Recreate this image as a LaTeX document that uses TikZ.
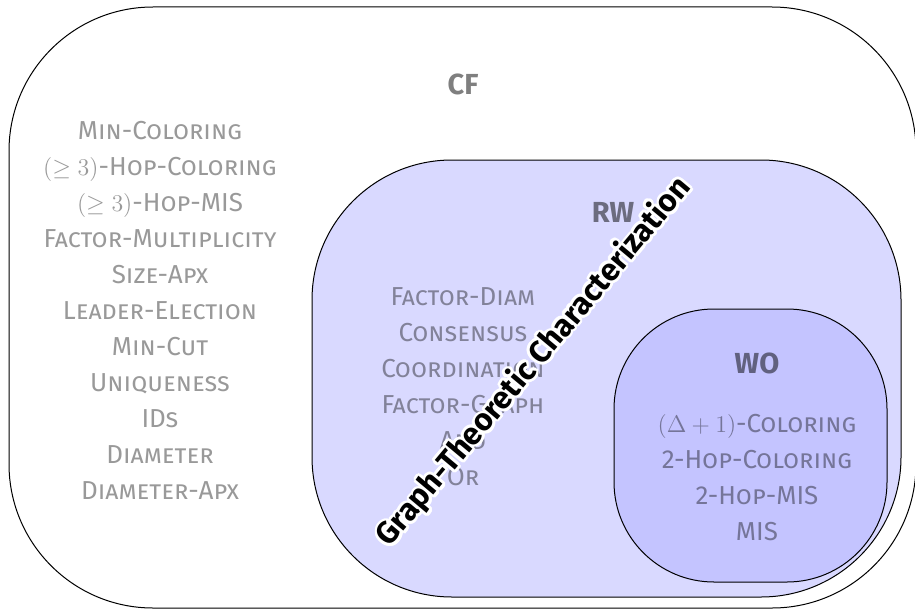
\documentclass[tikz,border=0pt]{standalone}
\usepackage{fontspec}
\setmainfont{Fira Sans}
\usepackage{contour}
\contourlength{1.4pt}
\contournumber{16}
\begin{document}
\begin{tikzpicture}[x=0.5pt,y=-0.5pt,
            region/.style={draw=black, line width=0.5pt},
            problems/.style={align=center, text=black, text opacity=0.4, font=\fontsize{13}{18}\selectfont\scshape},
            classname/.style={text=black, text opacity=0.5, font=\fontsize{14.5}{16}\selectfont\bfseries}
        ]
            \useasboundingbox (0,0) rectangle (915,610);

            \draw[region, rounded corners=72pt] (9,7) rectangle (916,608);
            \draw[region, fill=blue!15, rounded corners=70pt] (312,160) rectangle (901,597);
            \draw[region, fill=blue!23, rounded corners=50pt] (614,309) rectangle (887,582);

            \node[classname] (cf) at (463,84) {CF};
            \node[classname] (rw) at (613,212) {RW};
            \node[classname] (wo) at (757,363) {WO};

            \node[problems] (cflist) at (160,310) {Min-Coloring\\$(\geq 3)$-Hop-Coloring\\$(\geq 3)$-Hop-MIS\\Factor-Multiplicity\\Size-Apx\\Leader-Election\\Min-Cut\\Uniqueness\\IDs\\Diameter\\Diameter-Apx};
            \node[problems] (rwlist) at (463,387) {Factor-Diam\\Consensus\\Coordination\\Factor-Graph\\And\\Or};
            \node[problems] (wolist) at (757,478) {$(\Delta + 1)$-Coloring\\2-Hop-Coloring\\2-Hop-MIS\\MIS};

            \node[rotate=50, font=\fontsize{15.5}{18}\selectfont\bfseries] (gtc) at (535,363) {\contour{white}{Graph-Theoretic Characterization}};

        \end{tikzpicture}
\end{document}
